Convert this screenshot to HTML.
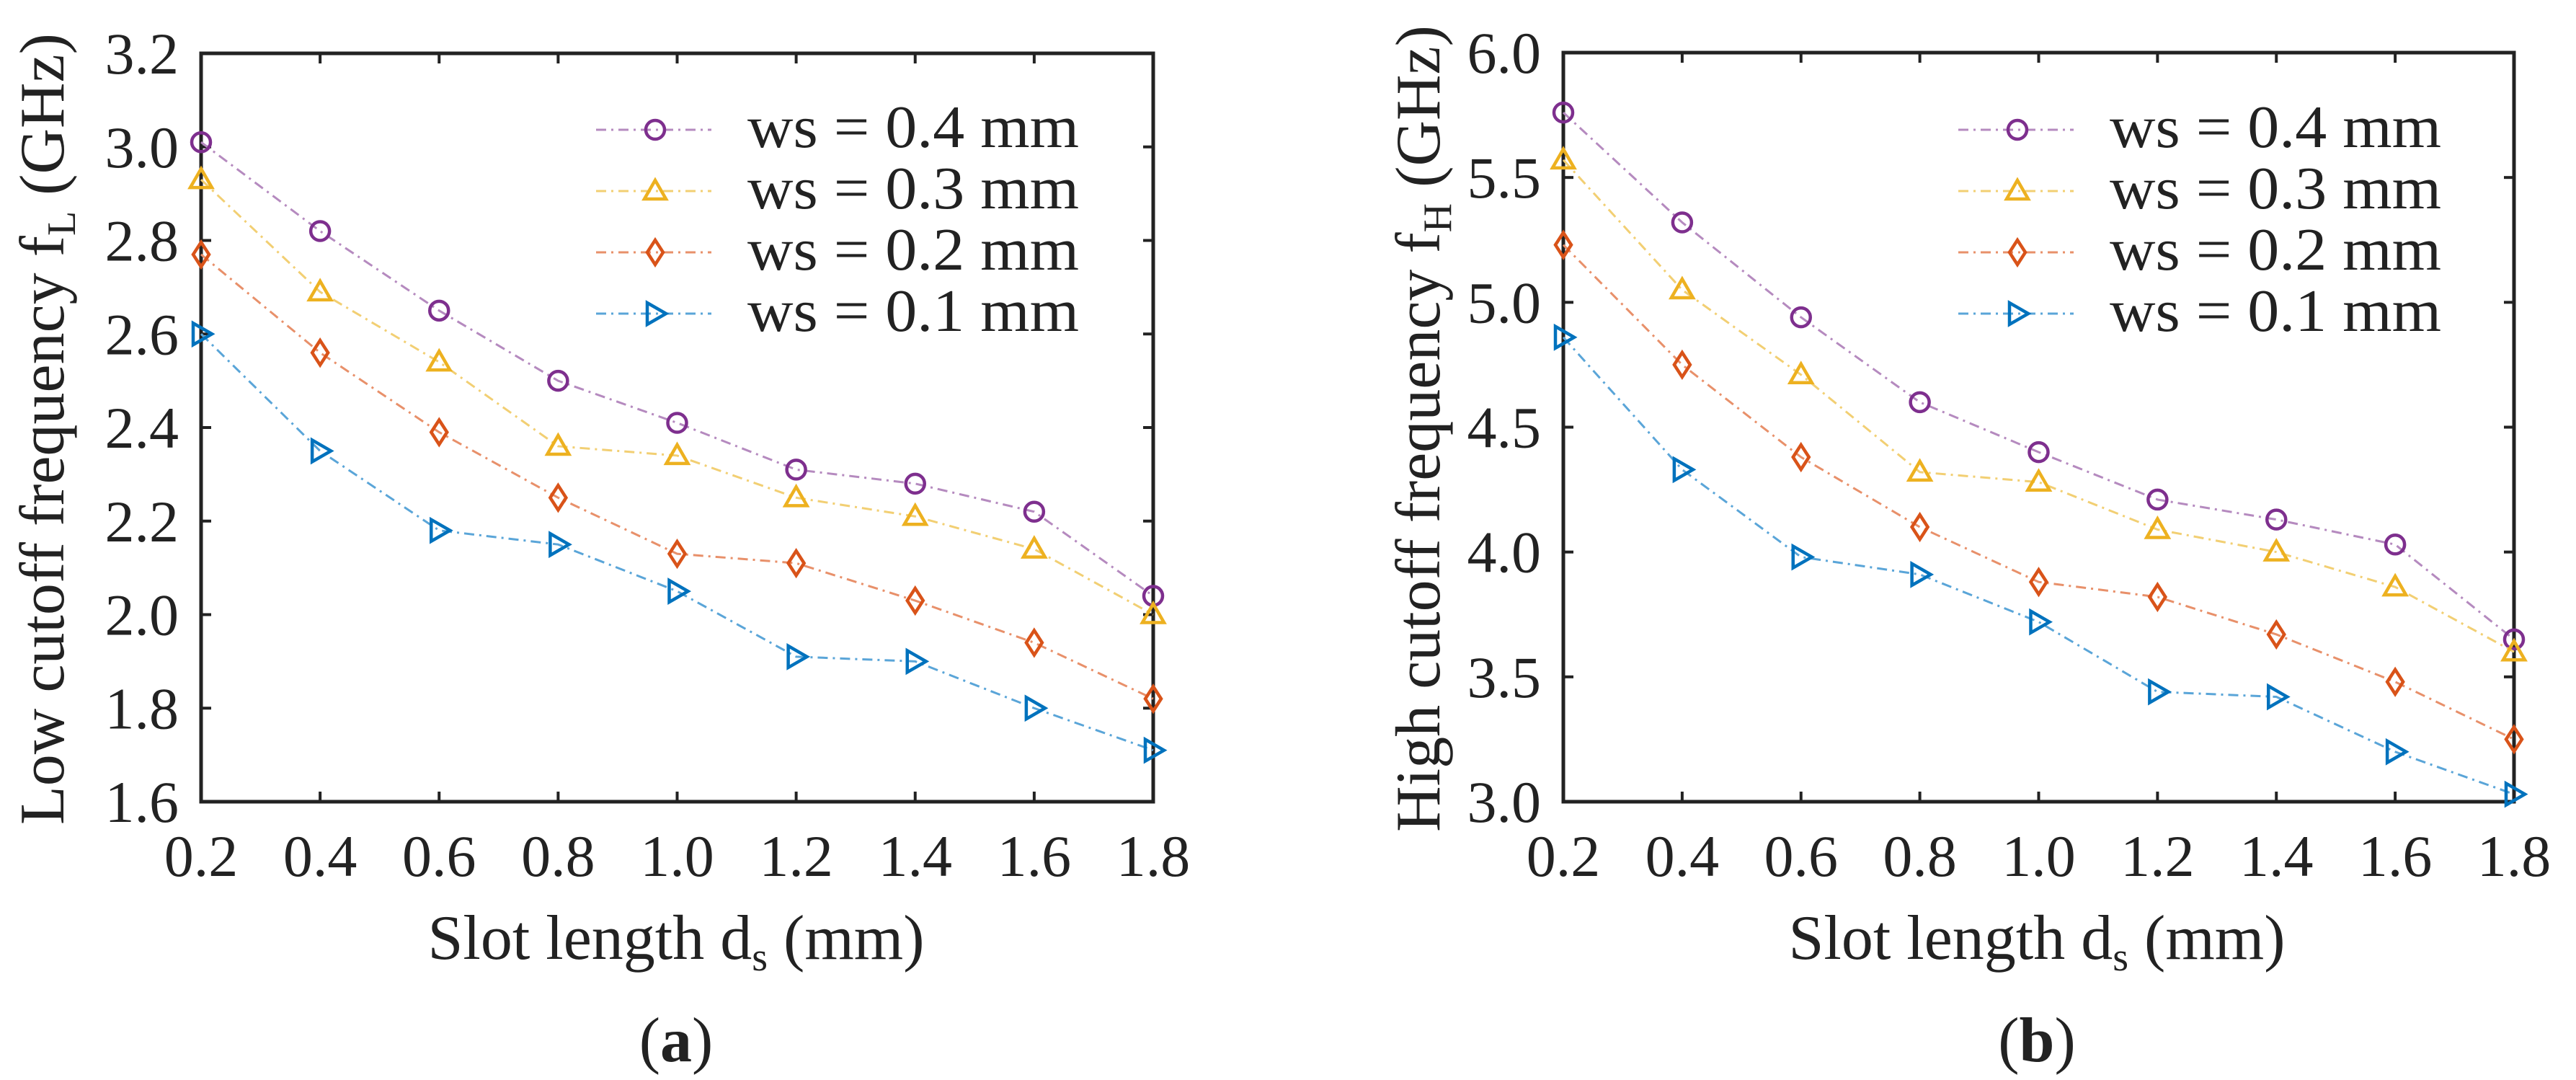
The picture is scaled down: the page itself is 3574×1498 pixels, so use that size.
<!DOCTYPE html>
<html><head><meta charset="utf-8"><style>
html,body{margin:0;padding:0;background:#fff}
svg{display:block}
text{font-family:"Liberation Serif",serif;fill:#222}
</style></head><body>
<svg id="fig" width="3574" height="1498" viewBox="0 0 3574 1498" xmlns="http://www.w3.org/2000/svg"></svg>
<script>
const xCats = [0.2,0.4,0.6,0.8,1.0,1.2,1.4,1.6,1.8];
const xTickLabels = ["0.2","0.4","0.6","0.8","1.0","1.2","1.4","1.6","1.8"];
const seriesNames = ["ws = 0.4 mm","ws = 0.3 mm","ws = 0.2 mm","ws = 0.1 mm"];
const lowWs04 = [3.01,2.82,2.65,2.50,2.41,2.31,2.28,2.22,2.04];
const lowWs03 = [2.93,2.69,2.54,2.36,2.34,2.25,2.21,2.14,2.00];
const lowWs02 = [2.77,2.56,2.39,2.25,2.13,2.11,2.03,1.94,1.82];
const lowWs01 = [2.60,2.35,2.18,2.15,2.05,1.91,1.90,1.80,1.71];
const highWs04 = [5.76,5.32,4.94,4.60,4.40,4.21,4.13,4.03,3.65];
const highWs03 = [5.57,5.05,4.71,4.32,4.28,4.09,4.00,3.86,3.60];
const highWs02 = [5.23,4.75,4.38,4.10,3.88,3.82,3.67,3.48,3.25];
const highWs01 = [4.86,4.33,3.98,3.91,3.72,3.44,3.42,3.20,3.03];
const lowYTicks = [1.6,1.8,2.0,2.2,2.4,2.6,2.8,3.0,3.2];
const lowYTickLabels = ["1.6","1.8","2.0","2.2","2.4","2.6","2.8","3.0","3.2"];
const highYTicks = [3.0,3.5,4.0,4.5,5.0,5.5,6.0];
const highYTickLabels = ["3.0","3.5","4.0","4.5","5.0","5.5","6.0"];

const NS="http://www.w3.org/2000/svg";
const svg=document.getElementById('fig');
const colors=["#7E2F8E","#EDB120","#D95319","#0072BD"];
const lineColors=["#b58abf","#f2cf73","#e8906a","#5aa5d8"];
const markers=["circle","triangle","diamond","tri-right"];

function mk(tag,attrs,parent){const e=document.createElementNS(NS,tag);for(const k in attrs)e.setAttribute(k,attrs[k]);(parent||svg).appendChild(e);return e;}

function marker(g,type,x,y,color){
  let e;
  if(type==="circle"){e=mk('circle',{cx:x,cy:y,r:13,fill:'none',stroke:color,'stroke-width':4.5},g);}
  else if(type==="triangle"){e=mk('polygon',{points:`${x},${y-15} ${x+15},${y+11} ${x-15},${y+11}`,fill:'none',stroke:color,'stroke-width':4.5},g);}
  else if(type==="diamond"){e=mk('polygon',{points:`${x},${y-17} ${x+11},${y} ${x},${y+17} ${x-11},${y}`,fill:'none',stroke:color,'stroke-width':4.5},g);}
  else {e=mk('polygon',{points:`${x+15},${y} ${x-11},${y-15} ${x-11},${y+15}`,fill:'none',stroke:color,'stroke-width':4.5},g);}
  return e;
}

function chart(cfg){
  const g=mk('g',{});
  
  
  const L=cfg.left,R=cfg.right,T=cfg.top,B=cfg.bottom;
  const xs=v=>L+(v-xCats[0])/(xCats[xCats.length-1]-xCats[0])*(R-L);
  const ys=v=>B-(v-cfg.ymin)/(cfg.ymax-cfg.ymin)*(B-T);
  // ticks
  xCats.forEach((v,i)=>{
    const x=xs(v);
    const t1=mk('line',{x1:x,y1:B,x2:x,y2:B-14,stroke:'#222','stroke-width':4},g);
    
    
    mk('line',{x1:x,y1:T,x2:x,y2:T+14,stroke:'#222','stroke-width':4},g);
    const tl=mk('text',{x:x,y:B+103,'font-size':82,'text-anchor':'middle'},g);
    tl.textContent=xTickLabels[i];
    
    
  });
  cfg.yt.forEach((v,i)=>{
    const y=ys(v);
    mk('line',{x1:L,y1:y,x2:L+14,y2:y,stroke:'#222','stroke-width':4},g);
    mk('line',{x1:R,y1:y,x2:R-14,y2:y,stroke:'#222','stroke-width':4},g);
    const tl=mk('text',{x:L-31,y:y+28,'font-size':82,'text-anchor':'end'},g);
    tl.textContent=cfg.ytl[i];
    
    
  });
  const box=mk('rect',{x:L,y:T,width:R-L,height:B-T,fill:'none',stroke:'#222','stroke-width':5},g);
  
  
  // series
  cfg.series.forEach((arr,si)=>{
    const sg=mk('g',{},g);
    
    
    const pts=arr.map((v,i)=>xs(xCats[i])+','+ys(v)).join(' ');
    const pl=mk('polyline',{points:pts,fill:'none',stroke:lineColors[si],'stroke-width':3,'stroke-dasharray':'14 7 3 7'},sg);
    
    
    arr.forEach((v,i)=>{
      const m=marker(sg,markers[si],xs(xCats[i]),ys(v),colors[si]);
      
      
    });
  });
  // legend
  const lg=mk('g',{},g);
  
  
  seriesNames.forEach((n,si)=>{
    const y=cfg.legY+si*85;
    const eg=mk('g',{},lg);
    
    
    mk('line',{x1:cfg.legX,y1:y,x2:cfg.legX+160,y2:y,stroke:lineColors[si],'stroke-width':3,'stroke-dasharray':'14 7 3 7'},eg);
    marker(eg,markers[si],cfg.legX+82,y,colors[si]);
    const t=mk('text',{x:cfg.legX+210,y:y+24,'font-size':84,textLength:460,lengthAdjust:'spacingAndGlyphs'},eg);
    t.textContent=n;
  });
  // x title
  const xt=mk('text',{x:cfg.xtX,y:1330,'font-size':88,'text-anchor':'middle'},g);
  
  
  xt.innerHTML='Slot length d<tspan font-size="56" dy="16">s</tspan><tspan dy="-16"> (mm)</tspan>';
  // y title
  const yt=mk('text',{x:0,y:0,'font-size':88,'text-anchor':'middle',transform:`translate(${cfg.ytX},${(T+B)/2+2}) rotate(-90)`},g);
  
  
  yt.innerHTML=cfg.ytitle;
  // caption
  const cap=mk('text',{x:cfg.xtX,y:1472,'font-size':88,'text-anchor':'middle'},g);
  
  
  cap.innerHTML=cfg.cap;
}

chart({name:'chart-low-cutoff',left:279,right:1600,top:74,bottom:1112,ymin:1.6,ymax:3.2,yt:lowYTicks,ytl:lowYTickLabels,
  series:[lowWs04,lowWs03,lowWs02,lowWs01],legX:827,legY:180,xtX:938,ytX:88,
  ytitle:'Low cutoff frequency f<tspan font-size="56" dy="16">L</tspan><tspan dy="-16"> (GHz)</tspan>',cap:'(<tspan font-weight="bold">a</tspan>)'});
chart({name:'chart-high-cutoff',left:2169,right:3488,top:73,bottom:1112,ymin:3.0,ymax:6.0,yt:highYTicks,ytl:highYTickLabels,
  series:[highWs04,highWs03,highWs02,highWs01],legX:2717,legY:180,xtX:2826,ytX:1997,
  ytitle:'High cutoff frequency f<tspan font-size="56" dy="16">H</tspan><tspan dy="-16"> (GHz)</tspan>',cap:'(<tspan font-weight="bold">b</tspan>)'});
</script>
</body></html>
